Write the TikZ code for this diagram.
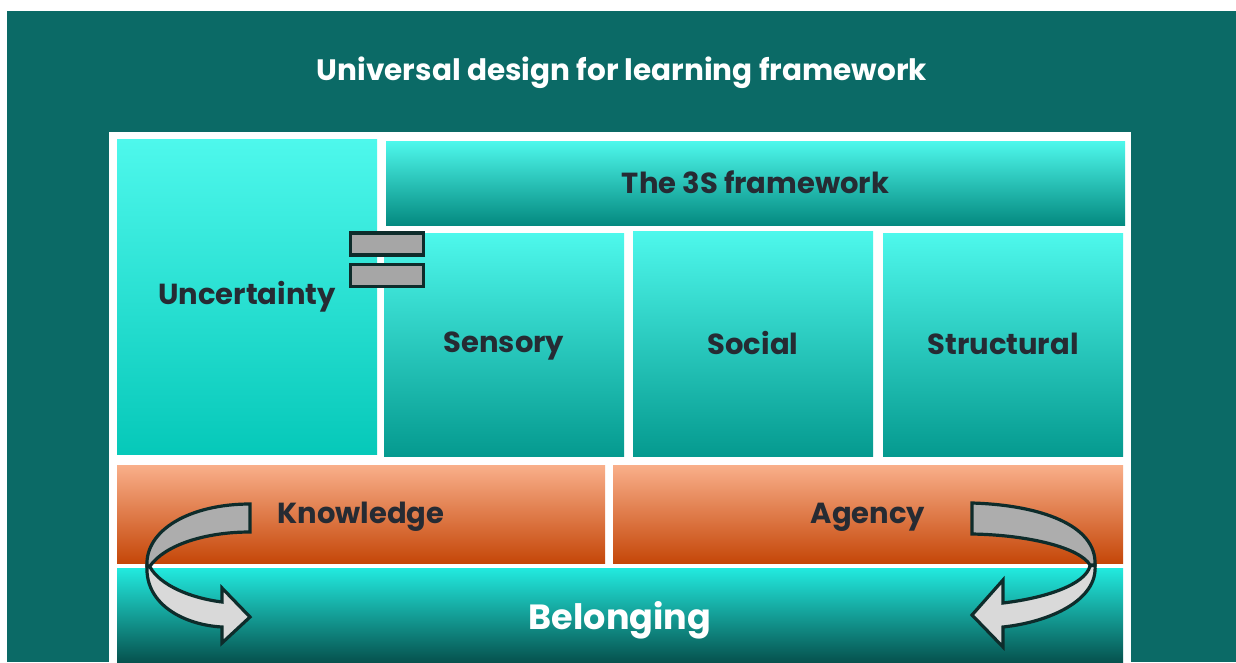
\documentclass[tikz,border=0pt]{standalone}
\usepackage{fontspec}
\setmainfont{Poppins}
\definecolor{pageteal}{HTML}{0B6A66}
\definecolor{cyantop}{HTML}{4EF8EC}
\definecolor{cyanmid}{HTML}{06D8C7}
\definecolor{cyanbot}{HTML}{059A8F}
\definecolor{cyandeep}{HTML}{048A80}
\definecolor{oratop}{HTML}{F9AF8A}
\definecolor{oramid}{HTML}{F4823C}
\definecolor{orabot}{HTML}{C54709}
\definecolor{beltop}{HTML}{22EADF}
\definecolor{belmid}{HTML}{12A099}
\definecolor{belbot}{HTML}{06524E}
\definecolor{labelink}{HTML}{262B33}
\definecolor{edgeink}{HTML}{0E2C2B}
\definecolor{bandback}{HTML}{ADADAD}
\definecolor{bandfront}{HTML}{D9D9D9}
\definecolor{barfill}{HTML}{A6A6A6}
% shift a label vertically while keeping its box size
\newcommand{\lift}[2]{\raisebox{#1}[\height][\depth]{#2}}
\begin{document}
\begin{tikzpicture}[x=1pt,y=-1pt,
  box/.style={shade, inner sep=0pt, text=labelink, font=\bfseries\fontsize{29}{34}\selectfont},
  cyanbox/.style={box, top color=cyantop, middle color=cyanmid, bottom color=cyanbot},
  orangebox/.style={box, top color=oratop, middle color=oramid, bottom color=orabot},
  eqbar/.style={draw=edgeink, line width=3.2pt, fill=barfill, minimum width=73pt, minimum height=22pt, inner sep=0pt},
  band/.style={draw=edgeink, line width=3.2pt, line join=miter},
]
\useasboundingbox (0,0) rectangle (1236,662);
% backdrop and white panel
\fill[pageteal] (7,11) rectangle (1236,662);
\fill[white] (109,132) rectangle (1131,662);
\node[text=white, font=\bfseries\fontsize{29.5}{34}\selectfont] (title) at (622,73) {Universal design for learning framework};

% upper blocks
\node[box, top color=cyantop, middle color=cyanmid!70!cyantop, bottom color=cyanmid!75!cyanbot,
      minimum width=260pt, minimum height=315pt] (uncert) at (247,296.5) {Uncertainty};
\node[box, top color=cyantop, middle color=cyanmid, bottom color=cyandeep,
      minimum width=739pt, minimum height=84pt] (threeS) at (755.5,183) {\lift{1pt}{The 3S framework}};
\node[cyanbox, minimum width=240pt, minimum height=223pt] (sensory) at (504,344.5) {\lift{-2pt}{Sensory}};
\node[cyanbox, minimum width=240pt, minimum height=225pt] (social) at (753,343.5) {\lift{1pt}{Social}};
\node[cyanbox, minimum width=240pt, minimum height=223pt] (structural) at (1003,344.5) {\lift{1pt}{Structural}};

% lower blocks
\node[orangebox, minimum width=488pt, minimum height=98pt] (knowledge) at (361,514) {\lift{-3pt}{Knowledge}};
\node[orangebox, minimum width=510pt, minimum height=98pt] (agency) at (868,514) {\lift{-3pt}{Agency}};
\node[box, top color=beltop, middle color=belmid, bottom color=belbot, text=white,
      font=\bfseries\fontsize{35}{40}\selectfont,
      minimum width=1006pt, minimum height=94pt] (belonging) at (620,615) {\lift{-5pt}{Belonging}};

% equals sign between Uncertainty and the 3S blocks
\node[eqbar] (eqtop) at (387,244) {};
\node[eqbar] (eqbot) at (387,275.5) {};

% left turning arrow: Knowledge down into Belonging
\draw[band, fill=bandfront] (147,566) .. controls (145,605) and (185,625) .. (222,627)
  -- (222,643) -- (250,617) -- (222,588) -- (222,602)
  .. controls (190,598) and (160,585) .. (150,567) -- cycle;
\draw[band, fill=bandback] (250,504) -- (250,532) .. controls (205,532) and (165,545) .. (150,566)
  -- (147,566) .. controls (145,530) and (190,504) .. (250,504) -- cycle;

% right turning arrow: Agency down into Belonging
\draw[band, fill=bandfront] (1095,565) .. controls (1098,600) and (1050,622) .. (1003,627)
  -- (1003,647) -- (972,615) -- (1003,580) -- (1003,603)
  .. controls (1045,598) and (1085,585) .. (1090,566) -- cycle;
\draw[band, fill=bandback] (972,503) -- (972,534) .. controls (1030,535) and (1080,548) .. (1090,565)
  -- (1095,565) .. controls (1097,525) and (1040,505) .. (972,503) -- cycle;
\end{tikzpicture}
\end{document}
